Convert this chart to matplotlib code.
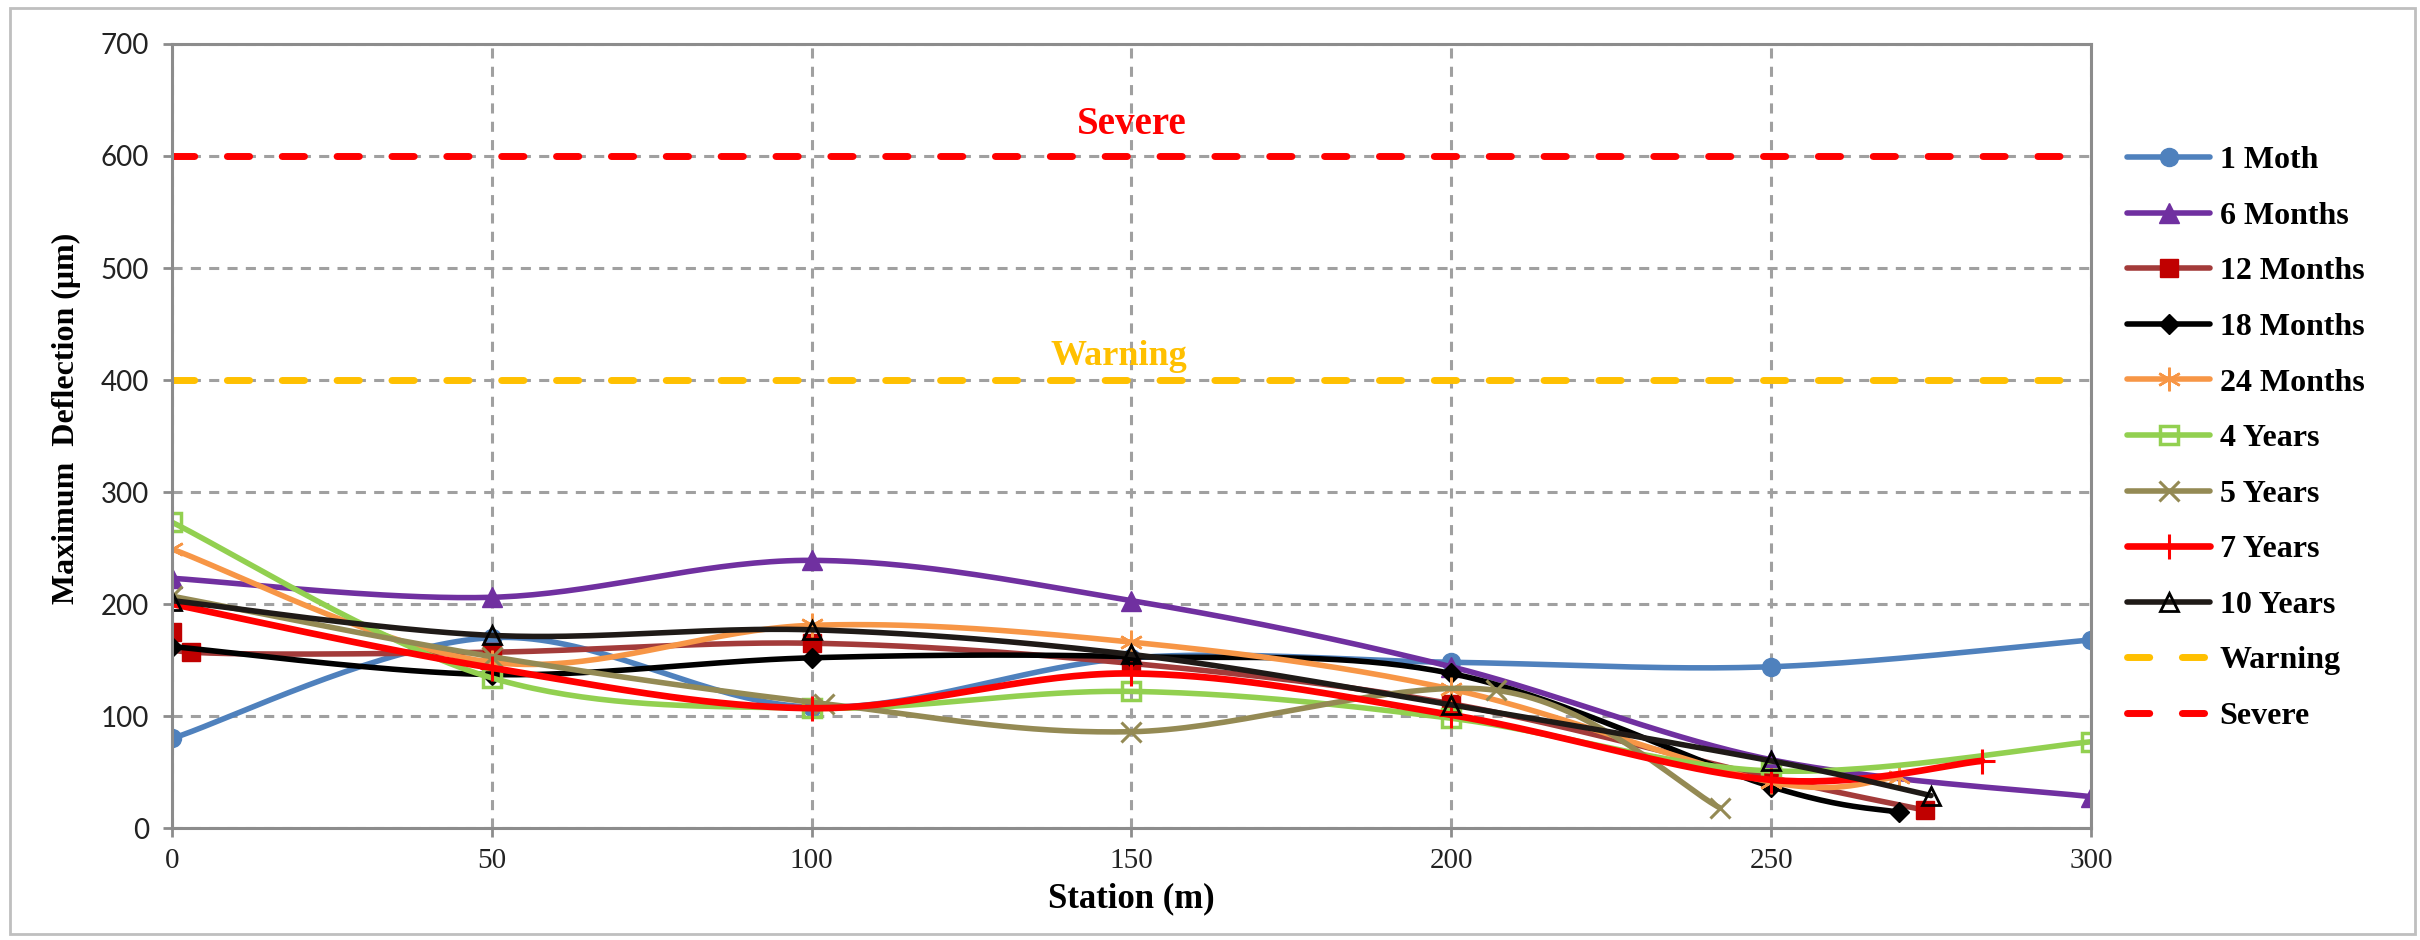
import numpy as np
import matplotlib
matplotlib.use("Agg")
import matplotlib.pyplot as plt
from matplotlib.patches import Rectangle

# station (m) and maximum deflection (um) per survey
st_1m = [0, 50, 100, 150, 200, 250, 300]
d_1m = [80, 170, 108, 152, 148, 144, 168]
st_6m = [0, 50, 100, 150, 200, 250, 300]
d_6m = [223, 206, 239, 203, 144, 61, 28]
st_12m = [0, 3, 50, 100, 150, 200, 250, 274]
d_12m = [175, 157, 157, 165, 147, 111, 45, 16]
st_18m = [0, 50, 100, 150, 200, 250, 270]
d_18m = [162, 137, 152, 153, 138, 37, 14]
st_24m = [0, 50, 100, 150, 200, 250, 270]
d_24m = [249, 148, 181, 166, 124, 41, 46]
st_4y = [0, 50, 100, 150, 200, 250, 300]
d_4y = [273, 134, 107, 122, 98, 51, 77]
st_5y = [0, 50, 102, 150, 207, 242]
d_5y = [207, 153, 111, 86, 123, 18]
st_7y = [0, 50, 100, 150, 200, 250, 283]
d_7y = [200, 143, 107, 138, 101, 43, 60]
st_10y = [0, 50, 100, 150, 200, 250, 275]
d_10y = [203, 172, 177, 155, 110, 60, 29]

warning_level = 400
severe_level = 600

SERIF = ["Liberation Serif", "DejaVu Serif"]
SANS = ["Lato", "DejaVu Sans"]


def excel_smooth(xs, ys, n=40):
    # bezier smoothing like Excel's "smoothed line"
    p = np.column_stack([xs, ys]).astype(float)
    p = np.vstack([p[0], p, p[-1]])
    t = np.linspace(0, 1, n)[:, None]
    parts = []
    for i in range(1, len(p) - 2):
        p0, p1, p2, p3 = p[i - 1], p[i], p[i + 1], p[i + 2]
        c1 = p1 + (p2 - p0) / 6
        c2 = p2 - (p3 - p1) / 6
        seg = (1 - t) ** 3 * p1 + 3 * (1 - t) ** 2 * t * c1 + 3 * (1 - t) * t ** 2 * c2 + t ** 3 * p2
        parts.append(seg if i == 1 else seg[1:])
    c = np.vstack(parts)
    marks = [k * (n - 1) for k in range(len(xs))]
    return c[:, 0], c[:, 1], marks


series = [
    ("1 Moth", st_1m, d_1m, dict(color="#4F81BD", marker="o", ms=13, mfc="#4F81BD", mec="#4F81BD")),
    ("6 Months", st_6m, d_6m, dict(color="#7030A0", marker="^", ms=14, mfc="#7030A0", mec="#7030A0")),
    ("12 Months", st_12m, d_12m, dict(color="#A33B3A", marker="s", ms=13, mfc="#C00000", mec="#C00000")),
    ("18 Months", st_18m, d_18m, dict(color="black", marker="D", ms=10, mfc="black", mec="black")),
    ("24 Months", st_24m, d_24m, dict(color="#F79646", marker=(6, 2, 0), ms=17, mew=1.8, mec="#F79646")),
    ("4 Years", st_4y, d_4y, dict(color="#92D050", marker="s", ms=13, mfc="none", mec="#92D050", mew=2.5)),
    ("5 Years", st_5y, d_5y, dict(color="#948A54", marker="x", ms=15, mew=2.2, mec="#948A54")),
    ("7 Years", st_7y, d_7y, dict(color="#FF0000", marker="+", ms=18, mew=2.2, mec="#FF0000", lw=4.8)),
    ("10 Years", st_10y, d_10y, dict(color="#1F1A17", marker="^", ms=13, mfc="none", mec="black", mew=2)),
]

fig = plt.figure(figsize=(24.2, 9.4), dpi=100)
ax = fig.add_axes([0.0711, 0.1191, 0.7929, 0.8341])

for label, xs, ys, style in series:
    cx, cy, marks = excel_smooth(xs, ys)
    kw = dict(lw=4)
    kw.update(style)
    ax.plot(cx, cy, label=label, markevery=marks, solid_capstyle="round", **kw)

ax.plot([0, 300], [warning_level] * 2, color="#FFC000", lw=5, ls=(0, (3.2, 4.7)),
        dash_capstyle="round", label="Warning")
ax.plot([0, 300], [severe_level] * 2, color="#FF0000", lw=5, ls=(0, (3.2, 4.7)),
        dash_capstyle="round", label="Severe")

ax.text(150, 620, "Severe", color="#FF0000", fontsize=28, fontweight="bold",
        family=SERIF, ha="center", va="baseline")
ax.text(148, 413, "Warning", color="#FFC000", fontsize=26, fontweight="bold",
        family=SERIF, ha="center", va="baseline")

ax.set_xlim(0, 300)
ax.set_ylim(0, 700)
ax.set_xticks(range(0, 301, 50))
ax.set_yticks(range(0, 701, 100))
ax.grid(True, color="#A0A0A0", lw=2.2, ls=(0, (3.3, 2.7)))
ax.set_axisbelow(True)
for s in ax.spines.values():
    s.set_color("#8C8C8C")
    s.set_linewidth(2.2)
ax.tick_params(direction="out", length=6.5, width=2, color="#8C8C8C",
               labelcolor="#222222", pad=10)
ax.tick_params(axis="y", labelsize=20)
ax.tick_params(axis="x", labelsize=21, pad=8)
for lab in ax.get_yticklabels():
    lab.set_family(SANS)
for lab in ax.get_xticklabels():
    lab.set_family(SERIF)

ax.set_xlabel("Station (m)", fontsize=25, fontweight="bold", family=SERIF, labelpad=6)
fig.text(66 / 2420, 1 - 418 / 940, "Maximum  Deflection (\u03bcm)", rotation=90,
         fontsize=23, fontweight="bold", family=SERIF, ha="center", va="center")

leg = ax.legend(loc="upper left", bbox_to_anchor=(2127 / 2420, 1 - 146 / 940),
                bbox_transform=fig.transFigure, frameon=False, borderpad=0,
                borderaxespad=0, handlelength=2.6, handletextpad=0.3,
                labelspacing=0.82, prop=dict(family=SERIF, weight="bold", size=23))

fig.patches.append(Rectangle((10 / 2420, 6 / 940), 2405 / 2420, 926 / 940,
                             transform=fig.transFigure, fill=False,
                             edgecolor="#BFBFBF", lw=2))

fig.savefig("out.png", dpi=100, facecolor="white")
